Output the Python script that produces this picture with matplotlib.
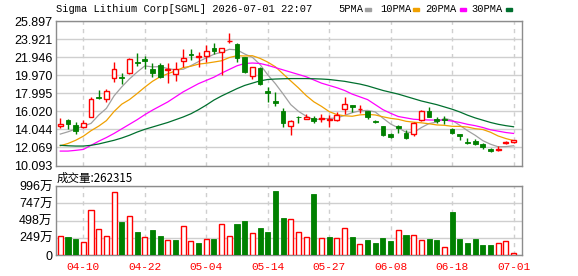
import numpy as np
import matplotlib.pyplot as plt
from matplotlib.patches import Rectangle

# ---------------------------
# data
# ---------------------------
opens = [14.40, 15.06, 14.48, 14.26, 15.43, 17.58, 17.32, 19.62, 19.80, 20.24,
         21.37, 21.74, 20.64, 21.12, 20.53, 20.10, 21.48, 22.25, 21.99, 22.07,
         22.98, 22.54, 23.67, 23.38, 21.92, 19.88, 20.72, 18.23, 17.14, 16.08,
         14.40, 15.43, 15.21, 15.28, 15.17, 15.02, 15.02, 16.23, 16.70, 16.23,
         16.08, 14.99, 14.40, 13.53, 14.40, 13.67, 13.49, 15.06, 16.05, 15.13,
         15.17, 14.04, 13.49, 12.62, 12.76, 12.40, 11.89, 11.78, 12.51, 12.65]
highs = [15.24, 15.17, 14.84, 15.06, 17.58, 18.31, 18.42, 21.41, 20.17, 21.85,
         22.36, 22.10, 21.26, 21.26, 21.26, 21.37, 22.83, 22.83, 22.54, 23.23,
         23.53, 22.95, 24.55, 23.45, 21.99, 20.90, 20.82, 18.71, 18.16, 16.34,
         15.06, 15.46, 15.72, 15.54, 15.68, 15.57, 15.97, 17.54, 16.72, 16.70,
         16.10, 15.06, 14.42, 13.67, 14.48, 13.97, 14.81, 16.16, 16.45, 15.43,
         15.54, 14.15, 13.51, 13.05, 12.98, 12.51, 12.03, 12.25, 12.80, 12.86]
lows = [14.22, 14.04, 13.57, 14.15, 15.35, 17.36, 17.07, 19.22, 19.04, 20.10,
        21.01, 20.64, 19.80, 19.62, 19.07, 19.37, 20.90, 21.63, 20.90, 21.45,
        22.25, 19.99, 23.45, 21.45, 20.24, 19.51, 18.89, 17.07, 16.63, 14.33,
        13.42, 14.70, 15.13, 14.77, 14.81, 14.33, 14.95, 15.68, 15.94, 15.79,
        15.13, 14.70, 13.31, 13.05, 13.60, 12.95, 13.35, 14.99, 15.35, 14.70,
        14.59, 13.49, 12.87, 12.47, 12.29, 11.92, 11.52, 11.67, 12.49, 12.51]
closes = [14.62, 14.59, 13.82, 14.77, 17.36, 17.51, 18.23, 20.68, 19.69, 21.70,
          21.26, 21.56, 20.21, 19.80, 20.64, 20.61, 21.85, 22.14, 22.07, 22.61,
          22.65, 22.91, 23.74, 21.81, 20.35, 20.82, 19.00, 18.05, 16.96, 14.77,
          14.95, 15.39, 15.39, 14.95, 15.28, 15.17, 15.65, 16.78, 16.45, 16.30,
          15.43, 14.81, 13.38, 13.24, 14.18, 13.05, 14.70, 16.05, 15.43, 14.99,
          15.06, 13.67, 13.31, 12.54, 12.40, 12.14, 11.71, 11.92, 12.65, 12.84]

ma5 = [13.53, 13.78, 14.08, 14.40, 14.70, 15.61, 16.34, 17.71, 18.69, 19.56,
       20.31, 20.98, 20.88, 20.91, 20.69, 20.56, 20.62, 21.01, 21.46, 21.86,
       22.26, 22.48, 22.80, 22.74, 22.29, 21.93, 21.14, 20.01, 19.04, 17.92,
       16.75, 16.02, 15.49, 15.09, 15.19, 15.24, 15.29, 15.57, 15.87, 16.07,
       16.12, 15.95, 15.27, 14.63, 14.21, 13.73, 13.71, 14.24, 14.68, 14.84,
       15.25, 15.04, 14.49, 13.91, 13.40, 12.81, 12.42, 12.14, 12.16, 12.25]
ma10 = [12.25, 12.50, 12.85, 13.30, 13.90, 14.40, 15.00, 16.00, 16.80, 17.30,
        17.96, 18.66, 19.30, 19.80, 20.13, 20.44, 20.80, 20.95, 21.18, 21.28,
        21.41, 21.55, 21.90, 22.10, 22.07, 22.10, 21.81, 21.40, 20.89, 20.11,
        19.34, 18.58, 17.75, 17.06, 16.56, 15.99, 15.66, 15.53, 15.48, 15.63,
        15.68, 15.62, 15.42, 15.25, 15.14, 14.93, 14.83, 14.76, 14.66, 14.53,
        14.49, 14.38, 14.37, 14.30, 14.12, 14.03, 13.73, 13.32, 13.04, 12.82]
ma20 = [11.67, 11.67, 11.75, 11.85, 12.30, 12.75, 13.15, 13.60, 14.10, 14.60,
        15.10, 15.65, 16.15, 16.60, 17.05, 17.60, 18.15, 18.60, 19.05, 19.40,
        19.75, 20.20, 20.60, 21.00, 21.25, 21.30, 21.25, 21.05, 20.80, 20.55,
        20.30, 20.05, 19.80, 19.45, 19.10, 18.85, 18.60, 18.30, 17.90, 17.60,
        17.30, 16.75, 16.20, 15.80, 15.45, 15.30, 15.15, 15.10, 15.07, 15.06,
        15.06, 14.95, 14.80, 14.60, 14.45, 14.25, 14.00, 13.85, 13.70, 13.60]
ma30 = [12.30, 12.25, 12.22, 12.22, 12.30, 12.45, 12.65, 12.85, 13.10, 13.40,
        13.75, 14.05, 14.30, 14.55, 14.80, 15.10, 15.40, 15.75, 16.20, 16.70,
        17.25, 17.70, 18.10, 18.50, 18.85, 19.10, 19.35, 19.50, 19.55, 19.58,
        19.60, 19.60, 19.60, 19.58, 19.55, 19.50, 19.40, 19.30, 19.15, 19.00,
        18.80, 18.55, 18.30, 18.10, 17.90, 17.65, 17.40, 17.15, 16.95, 16.75,
        16.50, 16.25, 15.95, 15.60, 15.30, 15.05, 14.80, 14.60, 14.45, 14.33]

# volume in 万 (10k shares), R = up day, G = down day
volumes = [274, 260, 231, 188, 650, 370, 274, 905, 476, 563,
           332, 255, 361, 274, 217, 217, 419, 202, 178, 231,
           231, 448, 274, 452, 491, 318, 390, 337, 929, 539,
           520, 332, 260, 881, 241, 260, 241, 385, 260, 159,
           217, 173, 245, 202, 356, 289, 284, 217, 231, 217,
           111, 621, 231, 173, 231, 144, 144, 173, 202, 26.2]
vol_dir = ("RGGRRRRRGR" "GRGGRGRRGR" "GRRGGRGGGG"
           "RRRGRGRRGR" "GGGGRGRRGG" "RGGGGGGRRR")

date_pos = [3, 11, 19, 27, 35, 43, 51, 59]
date_labels = ["04-10", "04-22", "05-04", "05-14", "05-27", "06-08", "06-18", "07-01"]
price_ticks = [10.093, 12.069, 14.044, 16.020, 17.995, 19.970, 21.946, 23.921, 25.897]
vol_ticks = [0, 249, 498, 747, 996]
vol_labels = ["0", "249万", "498万", "747万", "996万"]

title = "Sigma Lithium Corp[SGML] 2026-07-01 22:07"
vol_title = "成交量:262315"
ma_names = ["5PMA", "10PMA", "20PMA", "30PMA"]
ma_colors = ["#a0a0a0", "#f0a000", "#ff00ff", "#006f2e"]

RED = "#ff0000"
GREEN = "#008000"
GRID = "#cfcfcf"
BORDER = "#8c8c8c"

# ---------------------------
# figure layout (pixels -> fractions)
# ---------------------------
W, H = 578, 276
fig = plt.figure(figsize=(W / 100, H / 100), dpi=100)
ax = fig.add_axes([56 / W, 1 - 165.5 / H, 466 / W, 144.5 / H])
axv = fig.add_axes([56 / W, 1 - 255 / H, 466 / W, 69 / H])

n = len(closes)
x = np.arange(n)
o = np.array(opens)
c = np.array(closes)
up = c >= o

# --- price panel ---
for ma, col in zip([ma5, ma10, ma20, ma30], ma_colors):
    ax.plot(x, ma, color=col, lw=0.9, zorder=2)

wick_col = [RED if u else GREEN for u in up]
ax.vlines(x, lows, highs, colors=wick_col, lw=1.0, zorder=3)
body_bot = np.minimum(o, c)
body_h = np.maximum(np.abs(c - o), 0.06)
ax.bar(x[up], body_h[up], bottom=body_bot[up], width=0.62,
       facecolor="white", edgecolor=RED, lw=1.0, zorder=4)
ax.bar(x[~up], body_h[~up], bottom=body_bot[~up], width=0.62,
       facecolor=GREEN, edgecolor=GREEN, lw=0.6, zorder=4)

ax.set_ylim(price_ticks[0], price_ticks[-1])
ax.set_yticks(price_ticks)
ax.set_yticklabels([f"{t:.3f}" for t in price_ticks])

# --- volume panel ---
vup = np.array([d == "R" for d in vol_dir])
vol = np.array(volumes, dtype=float)
axv.bar(x[vup], vol[vup], width=0.66, facecolor="white", edgecolor=RED,
        lw=1.0, zorder=3)
axv.bar(x[~vup], vol[~vup], width=0.66, facecolor=GREEN, edgecolor=GREEN,
        lw=0.6, zorder=3)
axv.set_ylim(0, vol_ticks[-1])
axv.set_yticks(vol_ticks)
axv.set_yticklabels(vol_labels)

# --- shared styling ---
for a in (ax, axv):
    a.set_xlim(-0.56, 60.1)
    a.set_xticks(date_pos)
    a.grid(axis="y", color=GRID, lw=1.0, ls="-", zorder=0)
    a.grid(axis="x", color=GRID, lw=1.0, ls=(0, (3, 3)), zorder=0)
    a.set_axisbelow(True)
    for s in a.spines.values():
        s.set_color(BORDER)
        s.set_linewidth(1.0)
    a.tick_params(length=0, pad=2.5)
    for lab in a.get_yticklabels():
        lab.set_fontfamily(["Liberation Sans", "Noto Sans CJK SC"])
        lab.set_fontsize(9)

ax.set_xticklabels([])
axv.set_xticklabels(date_labels, color=RED, fontfamily="Liberation Mono",
                    fontsize=8)
axv.tick_params(axis="x", pad=5)

# --- header texts ---
fig.text(56 / W, 1 - 9.5 / H, title, fontfamily="Liberation Mono",
         fontsize=7.5, va="center", ha="left")
fig.text(57 / W, 1 - 178 / H, vol_title, fontfamily=["Noto Sans CJK SC"],
         fontsize=8.3, va="center", ha="left")

# legend: name followed by a small colour chip
leg_x = [338, 380, 425, 471]
chip_x = [365, 413, 460, 506]
for name, col, tx, cx in zip(ma_names, ma_colors, leg_x, chip_x):
    fig.text(tx / W, 1 - 9.5 / H, name, fontfamily="Liberation Mono",
             fontsize=7.5, va="center", ha="left")
    fig.patches.append(Rectangle((cx / W, 1 - 11 / H), 6 / W, 3 / H,
                                 transform=fig.transFigure, color=col))

fig.savefig("out.png", dpi=100)
